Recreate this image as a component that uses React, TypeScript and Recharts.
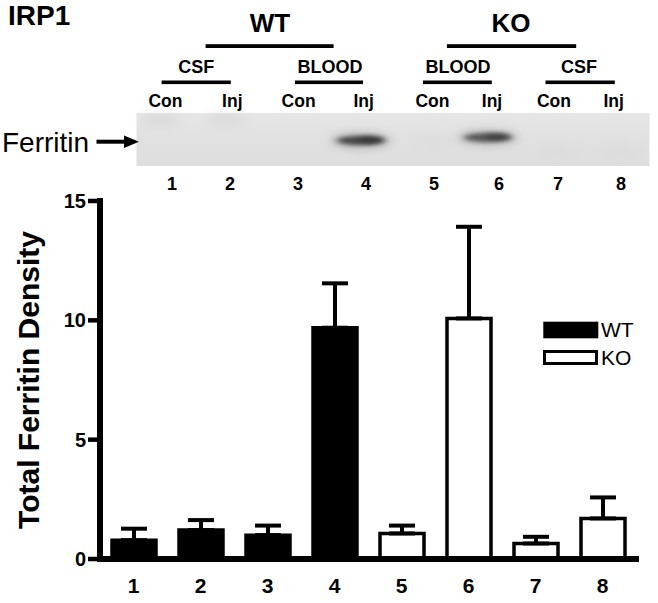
import React from 'react';
import { BarChart, Bar, XAxis, YAxis, ErrorBar, Cell, Legend } from 'recharts';

const FONT = '"Liberation Sans", Arial, Helvetica, sans-serif';

// ---- chart data ----
const categories = ['1', '2', '3', '4', '5', '6', '7', '8'];
const genotypes = ['WT', 'KO'];
const genotypeFills = ['#000000', '#ffffff'];
const wtMeans = [0.79, 1.21, 1.0, 9.69];
const wtErrors = [0.48, 0.42, 0.4, 1.86];
const koMeans = [1.07, 10.08, 0.65, 1.7];
const koErrors = [0.33, 3.84, 0.28, 0.88];
const yTicks = [0, 5, 10, 15];

// ---- blot header labels ----
const laneLabels = ['1', '2', '3', '4', '5', '6', '7', '8'];
const treatmentLabels = ['Con', 'Inj', 'Con', 'Inj', 'Con', 'Inj', 'Con', 'Inj'];
const tissueLabels = ['CSF', 'BLOOD', 'BLOOD', 'CSF'];
const bandIntensity = [0.05, 0.04, 0, 0.8, 0.02, 0.7, 0.02, 0.02];

const rows = [
  ...wtMeans.map((v, i) => ({ name: categories[i], value: v, err: [0, wtErrors[i]], group: 0 })),
  ...koMeans.map((v, i) => ({ name: categories[i + 4], value: v, err: [0, koErrors[i]], group: 1 })),
];

// layout of the blot header (pixel positions of decoration)
const L = {
  genoX: [270, 511],
  genoLine: [[205.6, 333.6], [446.9, 576.2]],
  tissueX: [196.2, 330, 458, 579],
  tissueLine: [[161.6, 230.8], [295, 363], [423, 491.8], [545.5, 614.8]],
  treatX: [165.5, 232.3, 298.6, 363.6, 432.4, 492, 553.9, 613.7],
  laneX: [172, 230, 298, 366, 434, 499, 558, 621],
  bandX: [160, 226, 298, 361, 434, 488, 558, 621],
  bandY: [119, 119, 140, 140.5, 140, 137.5, 152, 152],
};

function BlotHeader() {
  return (
    <svg width={658} height={200} style={{ position: 'absolute', left: 0, top: 0 }} fontFamily={FONT}>
      <defs>
        <filter id="bandBlur" x="-50%" y="-200%" width="200%" height="500%">
          <feGaussianBlur stdDeviation="3 2.2" />
        </filter>
        <filter id="haze" x="-50%" y="-200%" width="200%" height="500%">
          <feGaussianBlur stdDeviation="6 4" />
        </filter>
        <filter id="smudge" x="-100%" y="-200%" width="300%" height="500%">
          <feGaussianBlur stdDeviation="6" />
        </filter>
        <linearGradient id="blotBg" x1="0" y1="0" x2="0" y2="1">
          <stop offset="0" stopColor="#e6e6e6" />
          <stop offset="0.5" stopColor="#e1e1e1" />
          <stop offset="1" stopColor="#dedede" />
        </linearGradient>
      </defs>
      <text x={8} y={25} fontSize={28} fontWeight="bold" fill="#000">IRP1</text>
      {genotypes.map((g, i) => (
        <g key={g}>
          <text x={L.genoX[i]} y={32} textAnchor="middle" fontSize={26} fontWeight="bold" fill="#000">{g}</text>
          <rect x={L.genoLine[i][0]} y={44.2} width={L.genoLine[i][1] - L.genoLine[i][0]} height={3.8} fill="#000" />
        </g>
      ))}
      {tissueLabels.map((t, i) => (
        <g key={i}>
          <text x={L.tissueX[i]} y={73} textAnchor="middle" fontSize={18} fontWeight="bold" fill="#000">{t}</text>
          <rect x={L.tissueLine[i][0]} y={80.5} width={L.tissueLine[i][1] - L.tissueLine[i][0]} height={3.6} fill="#000" />
        </g>
      ))}
      {treatmentLabels.map((t, i) => (
        <text key={i} x={L.treatX[i]} y={107.3} textAnchor="middle" fontSize={17.5} fontWeight="bold" fill="#000">{t}</text>
      ))}
      <rect x={136.5} y={113} width={513} height={53} fill="url(#blotBg)" />
      {bandIntensity.map((b, i) =>
        b > 0.3 ? (
          <g key={i}>
            <ellipse cx={L.bandX[i]} cy={L.bandY[i]} rx={30} ry={8} fill="#777" opacity={b * 0.5} filter="url(#haze)" />
            <ellipse cx={L.bandX[i]} cy={L.bandY[i]} rx={24} ry={4.5} fill="#2a2a2a" opacity={b} filter="url(#bandBlur)" />
            <ellipse cx={L.bandX[i] + 10} cy={L.bandY[i] - 1} rx={12} ry={3.5} fill="#222" opacity={b * 0.6} filter="url(#bandBlur)" />
          </g>
        ) : b > 0 ? (
          <ellipse key={i} cx={L.bandX[i]} cy={L.bandY[i]} rx={20} ry={5} fill="#999" opacity={b * 4} filter="url(#smudge)" />
        ) : null
      )}
      <text x={2} y={151.7} fontSize={28} fill="#000">Ferritin</text>
      <rect x={96.5} y={139.7} width={30} height={4} fill="#000" />
      <polygon points="124,135.5 139,141.7 124,147.9" fill="#000" />
      {laneLabels.map((l, i) => (
        <text key={l} x={L.laneX[i]} y={190} textAnchor="middle" fontSize={18} fontWeight="bold" fill="#000">{l}</text>
      ))}
    </svg>
  );
}

const renderLegend = () => (
  <svg width={110} height={52} style={{ display: 'block' }}>
    {genotypes.map((g, i) => (
      <g key={g}>
        <rect
          x={i === 0 ? 4.8 : 4.5}
          y={i === 0 ? 5.2 : 33.5}
          width={52}
          height={i === 0 ? 13.6 : 12}
          fill={genotypeFills[i]}
          stroke="#000"
          strokeWidth={3}
        />
        <text x={61} y={i === 0 ? 19.3 : 47} fontSize={21} fontFamily={FONT} fill="#000">{g}</text>
      </g>
    ))}
  </svg>
);

export default function App() {
  return (
    <div style={{ position: 'absolute', left: 0, top: 0, width: 658, height: 603, background: '#fff', fontFamily: FONT }}>
      <BarChart width={658} height={603} data={rows} margin={{ top: 201, right: 22, bottom: 16, left: 40 }} barSize={44}>
        <XAxis
          dataKey="name"
          stroke="#000"
          axisLine={{ stroke: '#000', strokeWidth: 6, strokeLinecap: 'square' }}
          tickLine={false}
          tickSize={10}
          tickMargin={9}
          height={28}
          interval={0}
          tick={{ fill: '#000', fontSize: 21, fontWeight: 'bold', fontFamily: FONT }}
        />
        <YAxis
          width={60}
          domain={[0, 15]}
          ticks={yTicks}
          stroke="#000"
          axisLine={{ stroke: '#000', strokeWidth: 6, strokeLinecap: 'square' }}
          tickLine={{ stroke: '#000', strokeWidth: 4.5 }}
          tickSize={12}
          tickMargin={2}
          tick={{ fill: '#000', fontSize: 20, fontWeight: 'bold', fontFamily: FONT }}
          label={{
            value: 'Total Ferritin Density',
            angle: -90,
            position: 'center',
            dx: -41.5,
            fontSize: 30,
            fontWeight: 'bold',
            fill: '#000',
            fontFamily: FONT,
          }}
        />
        <Bar dataKey="value" isAnimationActive={false} stroke="#000" strokeWidth={3.5}>
          {rows.map((r, i) => (
            <Cell key={i} fill={genotypeFills[r.group]} />
          ))}
          <ErrorBar dataKey="err" width={13} strokeWidth={4} stroke="#000" direction="y" isAnimationActive={false} />
        </Bar>
        <Legend
          layout="vertical"
          align="center"
          verticalAlign="middle"
          wrapperStyle={{ left: 540, top: 318, width: 110, height: 52 }}
          content={renderLegend}
        />
      </BarChart>
      <BlotHeader />
    </div>
  );
}
